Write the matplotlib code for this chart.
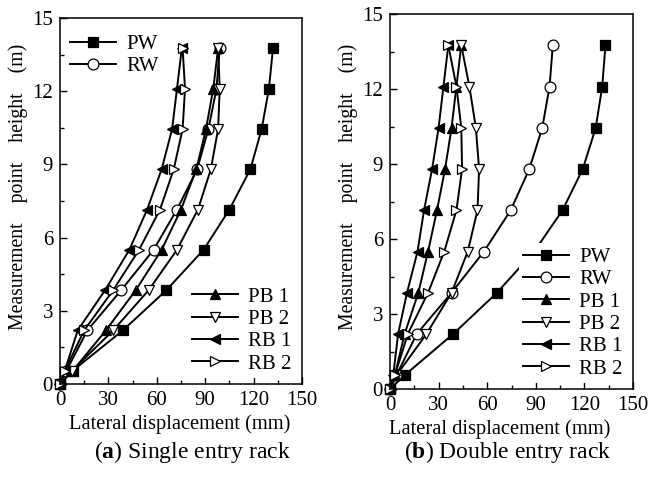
import matplotlib
matplotlib.use("Agg")
import matplotlib.pyplot as plt
from matplotlib.ticker import MultipleLocator

plt.rcParams['font.family'] = ['Liberation Serif', 'DejaVu Serif']
plt.rcParams['mathtext.fontset'] = 'custom'
plt.rcParams['mathtext.rm'] = 'Liberation Serif'
plt.rcParams['mathtext.bf'] = 'Liberation Serif:bold'

# Measurement heights (m)
heights = [0.0, 0.55, 2.2, 3.85, 5.5, 7.15, 8.8, 10.45, 12.1, 13.75]

# (a) Single entry rack - lateral displacement (mm)
single_PW = [0, 8, 39, 66, 89, 105, 118, 125, 129.5, 132]
single_RW = [0, 4, 17, 38, 58, 72.5, 85, 92, 97, 99]
single_PB1 = [0, 8, 28.5, 47, 63, 75, 84.5, 90.5, 95, 98]
single_PB2 = [0, 7.5, 33, 55, 72.5, 85.5, 93.5, 98, 99, 98]
single_RB1 = [0, 3, 11, 28, 43, 54, 63, 69.5, 72.5, 75.5]
single_RB2 = [0, 3, 15, 33, 49, 62, 70.5, 76, 77.5, 76]

# (b) Double entry rack - lateral displacement (mm)
double_PW = [0, 9, 39, 66, 89, 106.5, 119, 127, 131, 133]
double_RW = [0, 4, 16.5, 38, 58, 74.5, 86, 94, 98.5, 100.5]
double_PB1 = [0, 3, 9, 17.5, 23.5, 29, 34, 38, 41, 44]
double_PB2 = [0, 4, 22.5, 38, 48, 54, 55, 53, 49, 44]
double_RB1 = [0, 2, 5, 10.5, 17, 21, 26, 30, 33, 36]
double_RB2 = [0, 3, 11, 23.5, 33.5, 41, 44.5, 44, 41, 36]

labels = ['PW', 'RW', 'PB 1', 'PB 2', 'RB 1', 'RB 2']
styles = [('s', 'black'), ('o', 'white'), ('^', 'black'),
          ('v', 'white'), ('<', 'black'), ('>', 'white')]

W, H = 653, 478
fig = plt.figure(figsize=(W / 100, H / 100), dpi=100)


def px_axes(x0, y0, x1, y1):
    return fig.add_axes([x0 / W, 1 - y1 / H, (x1 - x0) / W, (y1 - y0) / H])


def style_axes(ax):
    ax.set_xlim(0, 150)
    ax.set_ylim(0, 15)
    ax.xaxis.set_major_locator(MultipleLocator(30))
    ax.xaxis.set_minor_locator(MultipleLocator(15))
    ax.yaxis.set_major_locator(MultipleLocator(3))
    ax.yaxis.set_minor_locator(MultipleLocator(1.5))
    ax.tick_params(which='both', direction='in', top=False, right=False,
                   labelsize=15, pad=5)
    ax.tick_params(which='major', length=5, width=1)
    ax.tick_params(which='minor', length=3, width=1)
    for s in ax.spines.values():
        s.set_linewidth(1.1)
    ax.set_xlabel('Lateral displacement (mm)', fontsize=14.8, labelpad=3)
    ax.set_ylabel('Measurement    point    height    (m)', fontsize=14.2,
                  labelpad=3)
    ax.yaxis.label.set_y(0.538)


def plot_series(ax, series):
    lines = []
    for xs, lab, (m, fc) in zip(series, labels, styles):
        ln, = ax.plot(xs, heights, color='black', lw=1.4, marker=m,
                      markersize=7.8, markerfacecolor=fc,
                      markeredgecolor='black', markeredgewidth=0.9, label=lab,
                      clip_on=False)
        lines.append(ln)
    return lines


leg_kw = dict(frameon=True, fancybox=False, edgecolor='none', facecolor='white',
              framealpha=1.0, fontsize=15, handlelength=2.2, handletextpad=0.5,
              labelspacing=0.13, borderpad=0.2, borderaxespad=0.3)

# Panel (a)
axa = px_axes(60, 18, 302, 384)
style_axes(axa)
axa.xaxis.label.set_x(0.496)
la = plot_series(axa, [single_PW, single_RW, single_PB1, single_PB2,
                       single_RB1, single_RB2])
leg1 = axa.legend(la[:2], labels[:2], loc='upper left',
                  bbox_to_anchor=(0.0, 1 - 6 / 366), **leg_kw)
leg1.set_zorder(5)
axa.add_artist(leg1)
leg2 = axa.legend(la[2:], labels[2:], loc='lower right', **leg_kw)
leg2.set_zorder(5)

# Panel (b)
axb = px_axes(390, 14, 633, 389)
style_axes(axb)
axb.xaxis.label.set_x(0.45)
lb = plot_series(axb, [double_PW, double_RW, double_PB1, double_PB2,
                       double_RB1, double_RB2])
leg3 = axb.legend(lb, labels, loc='lower right', **leg_kw)
leg3.set_zorder(5)

fig.text(192 / W, 1 - 452 / H, r'($\mathbf{a}$) Single entry rack',
         ha='center', va='center', fontsize=17)
fig.text(508 / W, 1 - 452 / H, r'($\mathbf{b}$) Double entry rack',
         ha='center', va='center', fontsize=17)

fig.savefig('out.png', dpi=100)
